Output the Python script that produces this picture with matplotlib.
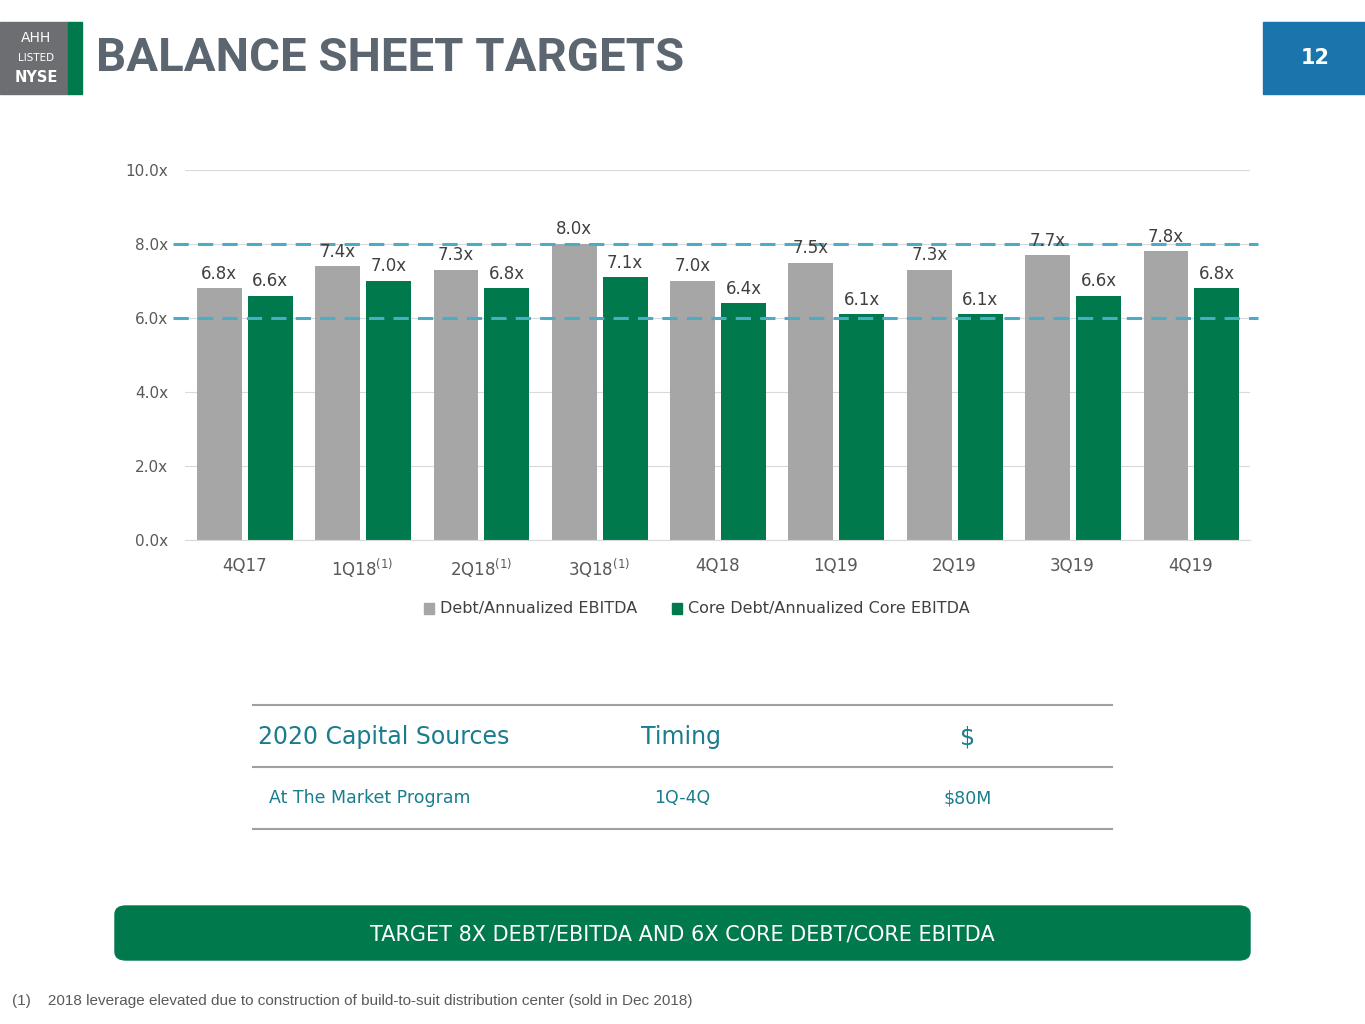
import matplotlib
matplotlib.use("Agg")
import matplotlib.pyplot as plt
import numpy as np
from matplotlib.patches import Rectangle, FancyBboxPatch

quarters = ["4Q17", "1Q18", "2Q18", "3Q18", "4Q18", "1Q19", "2Q19", "3Q19", "4Q19"]
footnoted = [False, True, True, True, False, False, False, False, False]
debt = [6.8, 7.4, 7.3, 8.0, 7.0, 7.5, 7.3, 7.7, 7.8]
core = [6.6, 7.0, 6.8, 7.1, 6.4, 6.1, 6.1, 6.6, 6.8]
targets = [8.0, 6.0]

GRAY = "#a6a6a6"; GREEN = "#00794c"; TEAL = "#1a7d8e"; BLUE = "#4bacc6"
W, H = 1365, 1024
fig = plt.figure(figsize=(13.65, 10.24), dpi=100)
def fx(x): return x / W
def fy(y): return 1 - y / H

ax = fig.add_axes([fx(185), fy(540), fx(1250) - fx(185), fy(170) - fy(540)])
x = np.arange(len(quarters))
ax.bar(x - 0.21, debt, 0.38, color=GRAY, zorder=2)
ax.bar(x + 0.22, core, 0.38, color=GREEN, zorder=2)
for i in range(len(x)):
    ax.text(x[i] - 0.21, debt[i] + 0.15, f"{debt[i]:.1f}x", ha="center", va="bottom", fontsize=12, color="#404040", zorder=4)
    ax.text(x[i] + 0.22, core[i] + 0.15, f"{core[i]:.1f}x", ha="center", va="bottom", fontsize=12, color="#404040", zorder=4)
ax.set_xlim(-0.5, 8.5); ax.set_ylim(0, 10)
ax.set_yticks(np.arange(0, 10.1, 2))
ax.set_yticklabels([f"{v:.1f}x" for v in np.arange(0, 10.1, 2)], fontsize=11, color="#595959")
ax.set_xticks(x)
ax.set_xticklabels([q + (r"$^{(1)}$" if f else "") for q, f in zip(quarters, footnoted)], fontsize=12, color="#595959")
ax.tick_params(length=0, pad=12)
ax.grid(axis="y", color="#d9d9d9", zorder=0)
for s in ["top", "right", "left"]: ax.spines[s].set_visible(False)
ax.spines["bottom"].set_color("#d9d9d9")
for t in targets:
    ax.plot([-0.6, 8.57], [t, t], ls=(0, (5, 3)), color=BLUE, lw=2.2, zorder=3, clip_on=False)

# legend
fig.patches.append(Rectangle((fx(424), fy(614)), fx(10), fy(603) - fy(614), color=GRAY, transform=fig.transFigure))
fig.text(fx(440), fy(609), "Debt/Annualized EBITDA", fontsize=11.5, color="#404040", va="center")
fig.patches.append(Rectangle((fx(672), fy(614)), fx(10), fy(603) - fy(614), color=GREEN, transform=fig.transFigure))
fig.text(fx(688), fy(609), "Core Debt/Annualized Core EBITDA", fontsize=11.5, color="#404040", va="center")

# header
fig.patches.append(Rectangle((0, fy(94)), fx(68), fy(22) - fy(94), color="#6d6e71", transform=fig.transFigure))
fig.patches.append(Rectangle((fx(68), fy(94)), fx(14), fy(22) - fy(94), color=GREEN, transform=fig.transFigure))
fig.text(fx(36), fy(38), "AHH", color="white", fontsize=10, ha="center", va="center")
fig.text(fx(36), fy(58), "LISTED", color="white", fontsize=7.5, ha="center", va="center")
fig.text(fx(36), fy(77), "NYSE", color="white", fontsize=10.5, ha="center", va="center", weight="bold")
fig.text(fx(96), fy(58), "BALANCE SHEET TARGETS", fontsize=34, color="#5b6670", va="center",
         family=["Roboto", "DejaVu Sans"], weight="bold")
fig.patches.append(Rectangle((fx(1263), fy(94)), fx(102), fy(22) - fy(94), color="#1a75ad", transform=fig.transFigure))
fig.text(fx(1315), fy(58), "12", color="white", fontsize=15, ha="center", va="center", weight="bold")

# table
for yy in [705, 767, 829]:
    fig.add_artist(plt.Line2D([fx(253), fx(1112)], [fy(yy), fy(yy)], color="#a0a0a0", lw=1.5))
fig.text(fx(258), fy(737), "2020 Capital Sources", fontsize=17, color=TEAL, va="center")
fig.text(fx(681), fy(737), "Timing", fontsize=17, color=TEAL, va="center", ha="center")
fig.text(fx(968), fy(737), "$", fontsize=17, color=TEAL, va="center", ha="center")
fig.text(fx(269), fy(798), "At The Market Program", fontsize=12.5, color=TEAL, va="center")
fig.text(fx(682), fy(798), "1Q-4Q", fontsize=12.5, color=TEAL, va="center", ha="center")
fig.text(fx(968), fy(798), "$80M", fontsize=12.5, color=TEAL, va="center", ha="center")

# banner
fig.patches.append(FancyBboxPatch((fx(115), fy(960)), fx(1135), fy(906) - fy(960),
                                  boxstyle="round,pad=0,rounding_size=0.008", color=GREEN, transform=fig.transFigure))
fig.text(fx(682), fy(934), "TARGET 8X DEBT/EBITDA AND 6X CORE DEBT/CORE EBITDA", color="white",
         fontsize=15, ha="center", va="center")
fig.text(fx(12), fy(1001), "(1)    2018 leverage elevated due to construction of build-to-suit distribution center (sold in Dec 2018)",
         fontsize=11, color="#595959", va="center", family="Liberation Sans")

fig.savefig("out.png", dpi=100, facecolor="white")
